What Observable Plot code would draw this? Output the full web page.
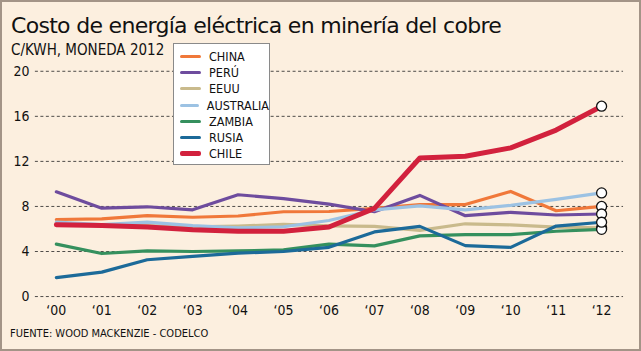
<!DOCTYPE html>
<html>
<head>
<meta charset="utf-8">
<script src="https://cdn.jsdelivr.net/npm/d3@7"></script>
<script src="https://cdn.jsdelivr.net/npm/@observablehq/plot@0.6"></script>
<style>
  html, body { margin: 0; padding: 0; background: #fff; }
  #card {
    position: relative; width: 641px; height: 351px; box-sizing: border-box;
    background: #FCEFDF; border: 2px solid #A39487; overflow: hidden;
    font-family: "DejaVu Sans Condensed", "DejaVu Sans", sans-serif; color: #111;
  }
  #title { position: absolute; left: 9px; top: 11px; font-family: "DejaVu Sans", sans-serif; font-size: 22px; letter-spacing: -0.7px; white-space: nowrap; }
  #subtitle { position: absolute; left: 9px; top: 39px; font-size: 15px; white-space: nowrap; }
  #caption { position: absolute; left: 8px; top: 325px; font-size: 11px; white-space: nowrap; }
  #chart { position: absolute; left: -2px; top: -2px; }
  #legend { position: absolute; left: 171px; top: 41px; width: 97px; height: 122px; box-sizing: border-box;
    background: #fff; border: 1px solid #8a8a8a; padding-top: 4px; }
  .item { height: 16.3px; display: flex; align-items: center; font-size: 12.5px; }
  .sw { width: 21px; margin-left: 6px; margin-right: 8px; border-radius: 2px; }
</style>
</head>
<body>
<div id="card">
  <div id="chart"></div>
  <div id="title">Costo de energía eléctrica en minería del cobre</div>
  <div id="subtitle">C/KWH, MONEDA 2012</div>
  <div id="legend"></div>
  <div id="caption">FUENTE: WOOD MACKENZIE - CODELCO</div>
</div>
<script>
const years = [2000, 2001, 2002, 2003, 2004, 2005, 2006, 2007, 2008, 2009, 2010, 2011, 2012];
const yearLabels = ["‘00","‘01","‘02","‘03","‘04","‘05","‘06","‘07","‘08","‘09","‘10","‘11","‘12"];
const countries = ["CHINA", "PERÚ", "EEUU", "AUSTRALIA", "ZAMBIA", "RUSIA", "CHILE"];
const colors = ["#F0783A", "#6E4C9E", "#C9BA8C", "#9CC2E3", "#35905E", "#1C6A99", "#D2213D"];
const china     = [6.84, 6.90, 7.18, 7.04, 7.15, 7.53, 7.55, 7.83, 8.17, 8.17, 9.33, 7.62, 8.00];
const peru      = [9.30, 7.85, 7.97, 7.70, 9.04, 8.70, 8.20, 7.53, 8.98, 7.18, 7.48, 7.24, 7.33];
const eeuu      = [6.40, 6.30, 6.30, 6.20, 6.26, 6.40, 6.28, 6.23, 5.88, 6.46, 6.37, 6.17, 6.11];
const australia = [6.60, 6.40, 6.60, 6.30, 6.09, 6.20, 6.75, 7.70, 8.05, 7.70, 8.10, 8.63, 9.20];
const zambia    = [4.66, 3.82, 4.05, 4.00, 4.05, 4.14, 4.66, 4.50, 5.39, 5.50, 5.50, 5.80, 5.97];
const rusia     = [1.68, 2.17, 3.27, 3.56, 3.85, 4.00, 4.37, 5.74, 6.23, 4.52, 4.37, 6.26, 6.60];
const chile     = [6.37, 6.30, 6.17, 5.94, 5.80, 5.80, 6.17, 7.83, 12.30, 12.46, 13.20, 14.78, 16.90];
const yTicks = [0, 4, 8, 12, 16, 20];

const seriesValues = [china, peru, eeuu, australia, zambia, rusia, chile];
const data = [];
countries.forEach((c, i) => years.forEach((y, j) => data.push({country: c, year: y, value: seriesValues[i][j]})));
const others = data.filter(d => d.country !== "CHILE");
const chileData = data.filter(d => d.country === "CHILE");
const last = data.filter(d => d.year === 2012);

const plot = Plot.plot({
  width: 641, height: 351,
  marginLeft: 35, marginRight: 16, marginTop: 71, marginBottom: 54,
  style: { background: "transparent", fontFamily: "'DejaVu Sans Condensed', 'DejaVu Sans', sans-serif", fontSize: "13px", color: "#111" },
  x: { domain: [2000, 2012], insetLeft: 21, insetRight: 22, label: null },
  y: { domain: [0, 20], label: null },
  color: { domain: countries, range: colors },
  marks: [
    Plot.ruleY(yTicks, { stroke: "#222", strokeWidth: 0.8, strokeDasharray: "3,2.5" }),
    Plot.axisY({ ticks: yTicks, tickSize: 0, tickPadding: 6, fontSize: 14 }),
    Plot.axisX({ ticks: years, tickFormat: d => yearLabels[years.indexOf(d)], tickSize: 0, tickPadding: 9, fontSize: 14 }),
    Plot.line(others, { x: "year", y: "value", z: "country", stroke: "country", strokeWidth: 3.2 }),
    Plot.line(chileData, { x: "year", y: "value", stroke: "country", strokeWidth: 5 }),
    Plot.dot(last, { x: "year", y: "value", r: 5, fill: "white", stroke: "#111", strokeWidth: 1.3 })
  ]
});
document.getElementById("chart").appendChild(plot);

const legend = document.getElementById("legend");
countries.forEach((c, i) => {
  const item = document.createElement("div");
  item.className = "item";
  const sw = document.createElement("div");
  sw.className = "sw";
  sw.style.background = colors[i];
  sw.style.height = c === "CHILE" ? "5px" : "3px";
  const t = document.createElement("span");
  t.textContent = c;
  item.appendChild(sw); item.appendChild(t);
  legend.appendChild(item);
});
</script>
</body>
</html>
